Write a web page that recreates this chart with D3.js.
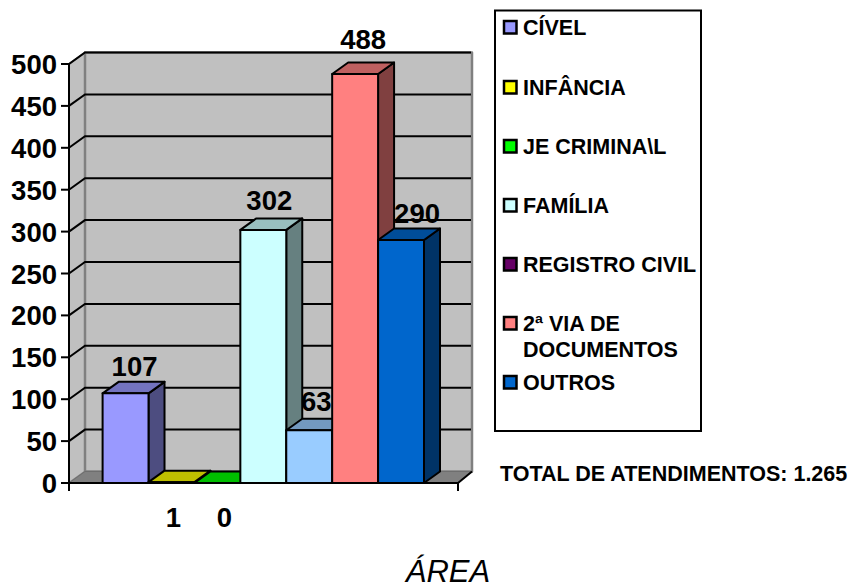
<!DOCTYPE html>
<html>
<head>
<meta charset="utf-8">
<script src="https://cdn.jsdelivr.net/npm/d3@7/dist/d3.min.js"></script>
<style>
html,body{margin:0;padding:0;background:#fff}
svg{display:block}
text{font-family:"Liberation Sans",Arial,sans-serif;fill:#000}
</style>
</head>
<body>
<svg id="chart" width="853" height="585"></svg>
<script>
// Attendance by area
const categories = ["CÍVEL","INFÂNCIA","JE CRIMINA\\L","FAMÍLIA","REGISTRO CIVIL","2ª VIA DE DOCUMENTOS","OUTROS"];
const values = [107,1,0,302,63,488,290];
const barColors = ["#9999ff","#ffff00","#00ff00","#ccffff","#99ccff","#ff8080","#0066cc"];
const legendColors = ["#9999ff","#ffff00","#00ff00","#ccffff","#660066","#ff8080","#0066cc"];
const yTicks = [0,50,100,150,200,250,300,350,400,450,500];
const totalLabel = "TOTAL DE ATENDIMENTOS: 1.265";
const axisTitle = "ÁREA";

const svg = d3.select("#chart");
const depthX = 16, depthY = -11.5;

const y = d3.scaleLinear().domain([0,500]).range([483,64]);
const x = d3.scaleBand().domain(d3.range(categories.length)).range([102.6,424]).padding(0);
const axisLeft = 69, axisRight = 458;

const poly = (pts, fill, stroke, w) => svg.append("polygon")
  .attr("points", pts.map(p => p.join(",")).join(" "))
  .attr("fill", fill).attr("stroke", stroke || "none")
  .attr("stroke-width", w || 0).attr("stroke-linejoin", "round");

// Chart walls and floor
const plotTop = y(500), base = y(0);
poly([[axisLeft,base],[axisLeft+depthX,base+depthY],[axisLeft+depthX,plotTop+depthY],[axisLeft,plotTop]], "#c0c0c0", "#808080", 2);
poly([[axisLeft+depthX,base+depthY],[axisRight+depthX-2,base+depthY],[axisRight+depthX-2,plotTop+depthY],[axisLeft+depthX,plotTop+depthY]], "#c0c0c0", "#808080", 2.5);
poly([[axisLeft,base],[axisRight,base],[axisRight+depthX-2,base+depthY],[axisLeft+depthX,base+depthY]], "#808080", "#6e6e6e", 1);

// Gridlines across both walls
const grid = yTicks.filter(t => t > 0);
svg.selectAll("path.grid").data(grid).join("path").attr("class","grid")
  .attr("fill","none").attr("stroke","#000").attr("stroke-width",2)
  .attr("d", t => `M${axisLeft},${y(t)}L${axisLeft+depthX},${y(t)+depthY}L${axisRight+depthX-3},${y(t)+depthY}`);

// Bars: side, top, then front face
const bars = svg.selectAll("g.bar").data(values).join("g").attr("class","bar");
bars.each(function(v,i){
  const g = d3.select(this);
  const x0 = x(i), x1 = x0 + x.bandwidth(), yv = y(v), c = d3.color(barColors[i]);
  const shape = (pts, fill) => g.append("polygon")
    .attr("points", pts.map(p => p.join(",")).join(" "))
    .attr("fill", fill).attr("stroke","#000").attr("stroke-width",2).attr("stroke-linejoin","round");
  const dark = k => d3.rgb(c.r*k, c.g*k, c.b*k).formatHex();
  shape([[x1,base],[x1+depthX,base+depthY],[x1+depthX,yv+depthY],[x1,yv]], dark(0.5));
  shape([[x0,yv],[x0+depthX,yv+depthY],[x1+depthX,yv+depthY],[x1,yv]], dark(0.75));
  shape([[x0,base],[x1,base],[x1,yv],[x0,yv]], barColors[i]);
});

// Axis line and ticks
svg.append("path").attr("fill","none").attr("stroke","#000").attr("stroke-width",2)
  .attr("d", `M${axisLeft},${plotTop}V${base+8}M${axisLeft},${base}H${axisRight}V${base+8}`);
svg.append("line").attr("x1",axisRight).attr("y1",base).attr("x2",axisRight+depthX-2).attr("y2",base+depthY)
  .attr("stroke","#000").attr("stroke-width",2);
svg.selectAll("line.tick").data(yTicks).join("line").attr("class","tick")
  .attr("x1",axisLeft-8).attr("x2",axisLeft).attr("y1",y).attr("y2",y)
  .attr("stroke","#000").attr("stroke-width",2);
svg.selectAll("text.ytick").data(yTicks).join("text").attr("class","ytick")
  .attr("x",57).attr("y",d=>y(d)+10).attr("text-anchor","end")
  .attr("font-size",27.5).attr("font-weight","bold").text(d=>d);

// Value labels, each placed relative to its bar
const labelOffsets = [[9,-17],[2,44],[7,44],[6,-20],[7,-19],[8,-25],[16,-17]];
svg.selectAll("text.value").data(values).join("text").attr("class","value")
  .attr("x",(d,i)=>x(i)+x.bandwidth()/2+labelOffsets[i][0])
  .attr("y",(d,i)=>(i===1||i===2 ? y(0) : y(d))+labelOffsets[i][1])
  .attr("text-anchor","middle").attr("font-size",27.5).attr("font-weight","bold").text(d=>d);

// Legend
svg.append("rect").attr("x",495).attr("y",10.5).attr("width",206).attr("height",420.5)
  .attr("fill","#fff").attr("stroke","#000").attr("stroke-width",2);
const legendY = [27,87,146,205,264,323,382];
const legend = svg.selectAll("g.legend").data(categories).join("g").attr("class","legend")
  .attr("transform",(d,i)=>`translate(0,${legendY[i]})`);
legend.append("rect").attr("x",504).attr("y",-6).attr("width",12.5).attr("height",12.5)
  .attr("fill",(d,i)=>legendColors[i]).attr("stroke","#000").attr("stroke-width",2.5);
legend.each(function(d){
  const t = d3.select(this).append("text").attr("x",523).attr("y",8)
    .attr("font-size",21.5).attr("font-weight","bold");
  const cut = d.indexOf(" DOCUMENTOS");
  if (cut < 0) t.text(d);
  else {
    t.append("tspan").attr("x",523).attr("y",8).text(d.slice(0,cut));
    t.append("tspan").attr("x",523).attr("y",34).text(d.slice(cut+1));
  }
});

svg.append("text").attr("x",500).attr("y",481).attr("font-size",21.5).attr("font-weight","bold").text(totalLabel);
svg.append("text").attr("x",448).attr("y",582).attr("text-anchor","middle")
  .attr("font-size",31).attr("font-style","italic").text(axisTitle);
</script>
</body>
</html>
